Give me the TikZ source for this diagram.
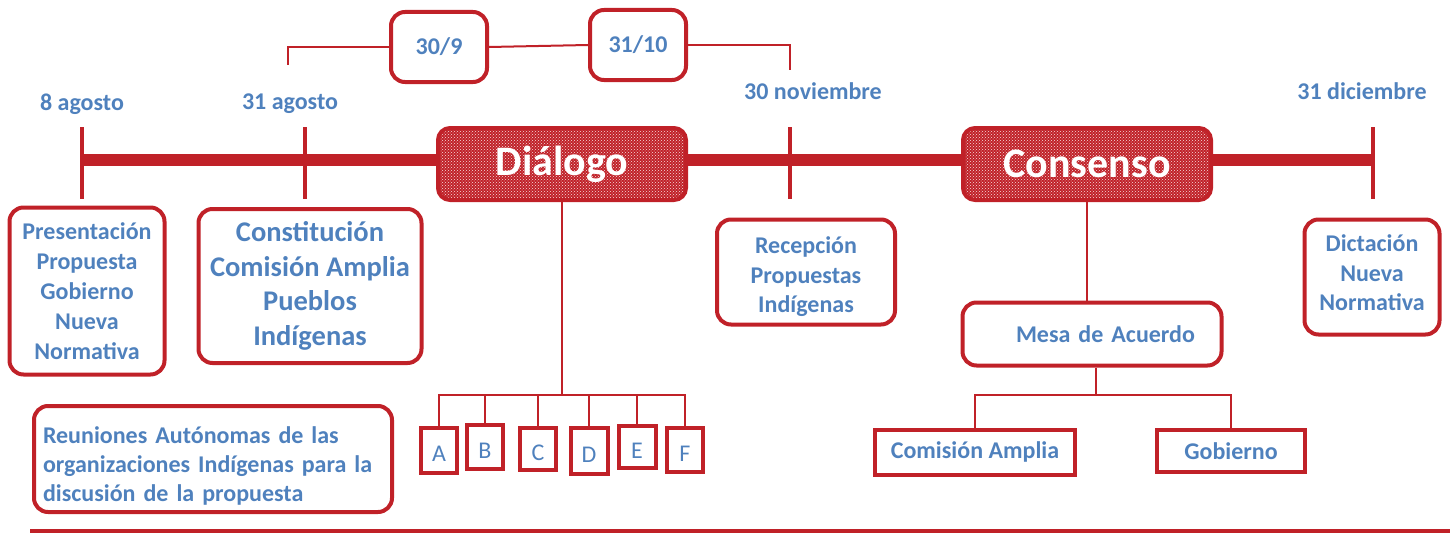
\documentclass[tikz,border=0pt]{standalone}
\usepackage{fontspec}
\setmainfont{Carlito}
\usepackage{xcolor}
\usepackage{tikz}
\usetikzlibrary{patterns}
\definecolor{dred}{RGB}{192,33,40}
\definecolor{dblue}{RGB}{79,129,189}

\begin{document}
\begin{tikzpicture}[x=1pt, y=-1pt,
    rbox/.style={draw=dred, line width=4pt, rounded corners=14pt, text=dblue, align=center, inner sep=0pt},
    sbox/.style={draw=dred, line width=4pt, text=dblue, inner sep=0pt},
    letter/.style={sbox, font=\fontsize{24}{29}\selectfont, text height=22pt, text depth=0pt},
    hub/.style={draw=dred, line width=4pt, rounded corners=12pt, preaction={fill=dred}, pattern=crosshatch dots, pattern color=white!85!dred, text=white, font=\fontsize{42}{48}\selectfont\bfseries, minimum width=248pt, minimum height=72pt},
    date/.style={text=dblue, font=\fontsize{24}{28}\selectfont\bfseries},
    inside/.style={text=dblue, align=center, font=\fontsize{24}{29.5}\selectfont\bfseries},
    link/.style={draw=dred, line width=2pt}]
    \useasboundingbox (0,0) rectangle (1450,535);

    \draw [dred, line width=12pt] (82,160) -- (1375,160);
    \foreach \x in {82, 305, 790, 1373}
        \draw [dred, line width=4pt] (\x,127) -- (\x,199);

    \node[date] (d1) at (82,104) {8 agosto};
    \node[date] (d2) at (290,104) {31 agosto};
    \node[date] (d3) at (813,91) {30 noviembre};
    \node[date] (d4) at (1362,91) {31 diciembre};

    \node[hub] (dia) at (562,164) {Diálogo};
    \node[hub] (cons) at (1087,164) {Consenso};

    \node[rbox, font=\fontsize{24}{28}\selectfont\bfseries, minimum width=96pt, minimum height=70pt] (s30) at (439,47) {30/9};
    \node[rbox, font=\fontsize{24}{28}\selectfont\bfseries, minimum width=96pt, minimum height=70pt] (o31) at (638,45) {31/10};
    \coordinate (bl) at (288,65);
    \coordinate (br) at (790,70);
    \draw [link] (bl) |- (s30.west);
    \draw [link] (s30.east) -- (o31.west);
    \draw [link] (o31.east) -| (br);

    \node[rbox, font=\fontsize{24}{30}\selectfont\bfseries, minimum width=155pt, minimum height=167pt] (pres) at (87,291)
        {Presentación\\Propuesta\\Gobierno\\Nueva\\Normativa};
    \node[rbox, font=\fontsize{28.5}{34.5}\selectfont\bfseries, minimum width=223pt, minimum height=154pt] (cons1) at (310,286)
        {Constitución\\Comisión Amplia\\Pueblos\\Indígenas};
    \node[rbox, minimum width=178pt, minimum height=105pt,
        label={[inside, yshift=-5pt]center:{Recepción\\Propuestas\\Indígenas}}] (rec) at (806,272) {};
    \node[rbox, minimum width=135pt, minimum height=115pt,
        label={[inside, yshift=4pt]center:{Dictación\\Nueva\\Normativa}}] (dict) at (1372,277) {};
    \node[rbox, minimum width=358pt, minimum height=106pt,
        label={[inside, font=\fontsize{24}{29}\selectfont\bfseries, align=left, text width=340pt, yshift=-7pt]center:{Reuniones Autónomas de las\\organizaciones Indígenas para la\\discusión de la propuesta}}] (reun) at (213,459) {};

    \node[rbox, font=\fontsize{24}{29}\selectfont\bfseries, minimum width=259pt, minimum height=63pt, text width=206pt, align=right] (mesa) at (1092,334) {Mesa de Acuerdo};
    \node[sbox, font=\fontsize{24}{29}\selectfont\bfseries, minimum width=200pt, minimum height=45pt] (cam) at (975,452) {Comisión Amplia};
    \node[sbox, font=\fontsize{24}{29}\selectfont\bfseries, minimum width=148pt, minimum height=42pt] (gob) at (1231,451) {Gobierno};

    \node[letter, minimum width=36pt, minimum height=45pt] (a) at (439,450) {A};
    \node[letter, minimum width=36pt, minimum height=44pt] (b) at (485,447) {B};
    \node[letter, minimum width=36pt, minimum height=42pt] (c) at (538,449) {C};
    \node[letter, minimum width=37pt, minimum height=46pt] (d) at (589,451) {D};
    \node[letter, minimum width=37pt, minimum height=42pt] (e) at (637,447) {E};
    \node[letter, minimum width=36pt, minimum height=44pt] (f) at (685,450) {F};

    \coordinate (dj) at (562,395);
    \draw [link] (dia.south) -- (dj);
    \draw [link] (a.north) |- (dj) -| (f.north);
    \foreach \n in {b, c, d, e}
        \draw [link] (\n.north) -- (\n.north |- dj);

    \coordinate (mj) at (1096,395);
    \draw [link] (cons.south) -- (cons.south |- mesa.north);
    \draw [link] (mesa.south -| mj) -- (mj);
    \draw [link] (cam.north) |- (mj) -| (gob.north);

    \draw [dred, line width=4pt] (30,531) -- (1450,531);
\end{tikzpicture}
\end{document}
